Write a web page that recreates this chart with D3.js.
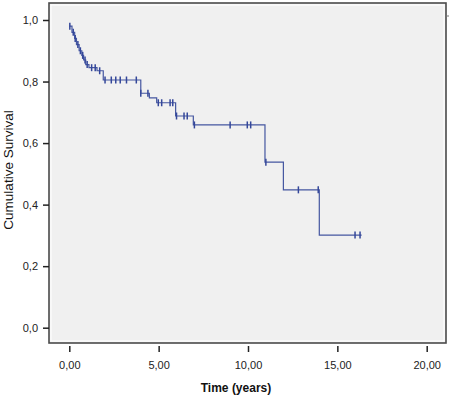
<!DOCTYPE html>
<html>
<head>
<meta charset="utf-8">
<script src="https://cdn.jsdelivr.net/npm/d3@7"></script>
<style>
  body { margin: 0; background: #fff; }
  svg { display: block; font-family: "Liberation Sans", Arial, sans-serif; }
</style>
</head>
<body>
<svg id="chart" width="450" height="397"></svg>
<script>
// Kaplan-Meier steps: time at which survival drops to the given level
const stepTimes = [0, 0.15, 0.30, 0.40, 0.55, 0.70, 0.80, 0.92, 1.10, 1.55, 1.90, 4.00, 4.48, 4.89, 5.95, 6.94, 10.95, 11.98, 13.99];
const stepSurv  = [0.98, 0.96, 0.94, 0.92, 0.90, 0.885, 0.87, 0.855, 0.845, 0.835, 0.805, 0.762, 0.747, 0.731, 0.688, 0.659, 0.538, 0.448, 0.301];
const lastTime = 16.36;

// censored observations
const censorTimes = [0.03, 0.22, 0.33, 0.48, 0.62, 0.75, 0.88, 1.0, 1.25, 1.45, 1.7,
  2.0, 2.35, 2.6, 2.85, 3.2, 3.75, 4.0, 4.4, 4.98, 5.17, 5.64, 5.79,
  6.0, 6.42, 6.6, 7.0, 9.0, 9.96, 10.15, 11.0, 12.82, 13.93, 15.99, 16.27];
const censorSurv = [0.98, 0.96, 0.94, 0.92, 0.90, 0.885, 0.87, 0.855, 0.845, 0.845, 0.835,
  0.805, 0.805, 0.805, 0.805, 0.805, 0.805, 0.762, 0.762, 0.731, 0.731, 0.731, 0.731,
  0.688, 0.688, 0.688, 0.659, 0.659, 0.659, 0.659, 0.538, 0.448, 0.448, 0.301, 0.301];

const xTicks = [0, 5, 10, 15, 20];
const yTicks = [0, 0.2, 0.4, 0.6, 0.8, 1.0];

const svg = d3.select("#chart");
const locale = d3.formatLocale({ decimal: ",", thousands: ".", grouping: [3], currency: ["", ""] });

const x = d3.scaleLinear().domain([0, 20]).range([69.3, 426.7]);
const y = d3.scaleLinear().domain([0, 1]).range([327.7, 20]);

const frame = { left: 49, top: 3, right: 446, bottom: 343 };

// plot area
svg.append("rect")
  .attr("x", frame.left).attr("y", frame.top)
  .attr("width", frame.right - frame.left)
  .attr("height", frame.bottom - frame.top)
  .attr("fill", "#f0f0f0")
  .attr("stroke", "#4a4a4a")
  .attr("stroke-width", 1.6);
svg.append("rect")
  .attr("x", frame.left + 2).attr("y", frame.top + 2)
  .attr("width", frame.right - frame.left - 4)
  .attr("height", frame.bottom - frame.top - 4)
  .attr("fill", "none")
  .attr("stroke", "#fff")
  .attr("stroke-width", 1);
svg.append("line")
  .attr("x1", frame.right).attr("x2", frame.right + 3)
  .attr("y1", 16).attr("y2", 16)
  .attr("stroke", "#777");

// axes
const yAxis = svg.append("g")
  .attr("transform", `translate(${frame.left},0)`)
  .call(d3.axisLeft(y).tickValues(yTicks).tickSize(6).tickPadding(5).tickFormat(locale.format(".1f")));
const xAxis = svg.append("g")
  .attr("transform", "translate(0,346)")
  .call(d3.axisBottom(x).tickValues(xTicks).tickSize(6).tickPadding(9).tickFormat(locale.format(".2f")));

[xAxis, yAxis].forEach(g => {
  g.select(".domain").remove();
  g.selectAll(".tick line").attr("stroke", "#222").attr("stroke-width", 1.5);
  g.selectAll(".tick text").attr("fill", "#222").attr("font-size", 11)
    .attr("font-family", "'Liberation Sans', Arial, sans-serif");
});

// survival curve
const pts = [];
stepTimes.forEach((t, i) => {
  if (i > 0) pts.push([t, stepSurv[i - 1]]);
  pts.push([t, stepSurv[i]]);
});
pts.push([lastTime, stepSurv[stepSurv.length - 1]]);

svg.append("path")
  .datum(pts)
  .attr("fill", "none")
  .attr("stroke", "#4456a0")
  .attr("stroke-width", 1.2)
  .attr("d", d3.line().x(d => x(d[0])).y(d => y(d[1])));

// censor marks
svg.append("g")
  .selectAll("line")
  .data(censorTimes.map((t, i) => [t, censorSurv[i]]))
  .join("line")
  .attr("x1", d => x(d[0])).attr("x2", d => x(d[0]))
  .attr("y1", d => y(d[1]) - 3.5).attr("y2", d => y(d[1]) + 3.5)
  .attr("stroke", "#34479a")
  .attr("stroke-width", 1.5);

// titles
svg.append("text")
  .attr("x", x(10) - 12).attr("y", 392)
  .attr("text-anchor", "middle")
  .attr("font-size", 12).attr("font-weight", "bold")
  .attr("fill", "#111")
  .text("Time (years)");

svg.append("text")
  .attr("transform", "translate(13,170) rotate(-90)")
  .attr("text-anchor", "middle")
  .attr("font-size", 13.5)
  .attr("fill", "#111")
  .text("Cumulative Survival");
</script>
</body>
</html>
